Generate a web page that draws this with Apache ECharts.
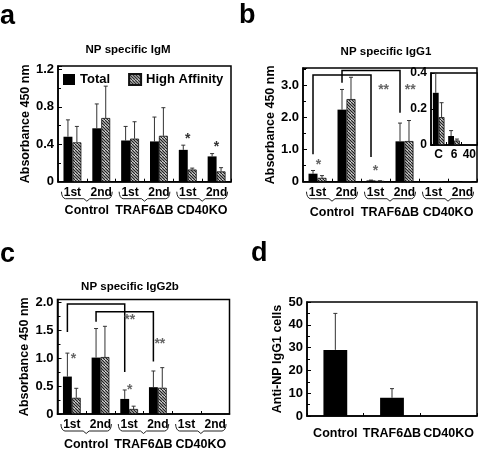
<!DOCTYPE html>
<html><head><meta charset="utf-8">
<script src="https://cdn.jsdelivr.net/npm/echarts@6/dist/echarts.min.js"></script>
<style>html,body{margin:0;padding:0;background:#fff}#c{width:481px;height:453px}</style>
</head><body><div id="c"></div>
<script>
// ---------------- data ----------------
const categories = ['1st', '2nd', '1st', '2nd', '1st', '2nd'];
const groups = ['Control', 'TRAF6ΔB', 'CD40KO'];
const seriesNames = ['Total', 'High Affinity'];

// panel a : NP specific IgM
const igmTotal    = [0.48, 0.57, 0.44, 0.43, 0.34, 0.27];
const igmTotalErr = [0.18, 0.26, 0.15, 0.26, 0.05, 0.03];
const igmHigh     = [0.42, 0.68, 0.46, 0.49, 0.13, 0.11];
const igmHighErr  = [0.17, 0.34, 0.18, 0.30, 0.015, 0.04];
const igmStars    = [[4, 0, 0.49, '*'], [5, 0, 0.40, '*']];

// panel b : NP specific IgG1
const igg1Total    = [0.25, 2.25, 0.04, 1.26, 0, 0];
const igg1TotalErr = [0.10, 0.63, 0.01, 0.57, 0, 0];
const igg1High     = [0.12, 2.58, 0.02, 1.27, 0, 0];
const igg1HighErr  = [0.07, 0.68, 0.01, 0.64, 0, 0];
const igg1Brackets = [[0, 0.86, 3.33, 2, 0.77], [1, 3.09, 3.47, 3, 2.15]];
const igg1Stars    = [[0, 0.03, 0.62, '*'], [2, 0, 0.41, '*'], [2, 0.28, 2.95, '**'], [3, 0.2, 2.95, '**']];
// inset of panel b
const insetCategories = ['C', '6', '40'];
const insetTicks    = [0, 0.2, 0.4];
const insetTotal    = [0.29, 0.05, 0];
const insetTotalErr = [0.11, 0.03, 0];
const insetHigh     = [0.155, 0.025, 0.004];
const insetHighErr  = [0.08, 0.008, 0];

// panel c : NP specific IgG2b
const igg2bTotal    = [0.67, 1.01, 0.27, 0.48, 0, 0];
const igg2bTotalErr = [0.42, 0.52, 0.16, 0.29, 0, 0];
const igg2bHigh     = [0.29, 1.02, 0.09, 0.47, 0, 0];
const igg2bHighErr  = [0.17, 0.55, 0.05, 0.36, 0, 0];
const igg2bBrackets = [[0, 1.47, 1.97, 2, 0.75], [1, 1.65, 1.83, 3, 0.94]];
const igg2bStars    = [[0, 0.06, 1.04, '*'], [2, 0.02, 0.48, '*'], [2, 0.02, 1.74, '**'], [3, 0.07, 1.31, '**']];

// panel d : Anti-NP IgG1 cells
const cellGroups = ['Control', 'TRAF6ΔB', 'CD40KO'];
const cellValues = [29, 8, 0];
const cellErr    = [16, 4, 0];

// ---------------- helpers ----------------
const FONT = 'Liberation Sans, Arial, Helvetica, sans-serif';
const BW = 0.31;

function hatchCanvas() {
  const c = document.createElement('canvas'); c.width = 6; c.height = 6;
  const g = c.getContext('2d');
  g.fillStyle = '#fff'; g.fillRect(0, 0, 6, 6);
  g.strokeStyle = '#222'; g.lineWidth = 1.3;
  for (const k of [-6, -3, 0, 3, 6]) { g.beginPath(); g.moveTo(k, 0); g.lineTo(k + 6, 6); g.stroke(); }
  return c;
}
const HATCH = { image: hatchCanvas(), repeat: 'repeat' };

function fmt1(v) { return v === 0 ? '0' : v.toFixed(1); }

function yAxis(gi, max, interval, formatter, name, extra) {
  return Object.assign({
    type: 'value', gridIndex: gi, min: 0, max: max, interval: interval,
    name: name || '', nameLocation: 'middle', nameGap: 23,
    nameTextStyle: { fontFamily: FONT, fontWeight: 'bold', fontSize: 12.5, color: '#000' },
    axisLine: { show: true, lineStyle: { color: '#000', width: 1.5 } },
    axisTick: { show: true, inside: true, length: 4, lineStyle: { color: '#000', width: 1 } },
    minorTick: { show: true, splitNumber: 2, length: 3, lineStyle: { color: '#000', width: 1 } },
    splitLine: { show: false },
    axisLabel: { formatter: formatter, showMaxLabel: false, margin: 4, fontFamily: FONT, fontWeight: 'bold', fontSize: 13, color: '#000' }
  }, extra || {});
}
function xAxis(gi, data, margin, fontSize) {
  return {
    type: 'category', gridIndex: gi, data: data,
    axisLine: { show: true, lineStyle: { color: '#000', width: 1.5 } },
    axisTick: { show: true, inside: true, length: 3, lineStyle: { color: '#000', width: 1 } },
    axisLabel: { margin: margin, fontFamily: FONT, fontWeight: 'bold', fontSize: fontSize, color: '#000', interval: 0 },
    splitLine: { show: false }
  };
}
function barPair(gi, tot, high, bw) {
  return [
    { type: 'bar', name: seriesNames[0], xAxisIndex: gi, yAxisIndex: gi, data: tot, barWidth: bw, barGap: '0%',
      itemStyle: { color: '#000' }, silent: true },
    { type: 'bar', name: seriesNames[1], xAxisIndex: gi, yAxisIndex: gi, data: high, barWidth: bw, barGap: '0%',
      itemStyle: { color: HATCH, borderColor: '#111', borderWidth: 0.8 }, silent: true }
  ];
}
function errSeries(gi, vals, errs, side, bw) {
  return {
    type: 'custom', xAxisIndex: gi, yAxisIndex: gi, silent: true, z: 1,
    data: vals.map((v, i) => [i, v, errs[i]]),
    renderItem(params, api) {
      const i = api.value(0), v = api.value(1), e = api.value(2);
      if (!(e > 0)) return { type: 'group', children: [] };
      const band = api.size([1, 0])[0];
      const p0 = api.coord([i, v]), p1 = api.coord([i, v + e]);
      const x = p0[0] + side * band * bw / 2;
      const st = { stroke: '#333', lineWidth: 1 };
      return { type: 'group', children: [
        { type: 'line', shape: { x1: x, y1: p0[1], x2: x, y2: p1[1] }, style: st },
        { type: 'line', shape: { x1: x - 2, y1: p1[1], x2: x + 2, y2: p1[1] }, style: st }
      ] };
    }
  };
}
function bracketSeries(gi, list) {
  return {
    type: 'custom', xAxisIndex: gi, yAxisIndex: gi, silent: true, z: 4,
    data: list.map((b, i) => [b[0], b[2]]),
    renderItem(params, api) {
      const b = list[params.dataIndex];
      const band = api.size([1, 0])[0];
      const dx = -band * BW / 2;
      const a1 = api.coord([b[0], b[1]]), a2 = api.coord([b[0], b[2]]);
      const c1 = api.coord([b[3], b[2]]), c2 = api.coord([b[3], b[4]]);
      return { type: 'polyline', shape: { points: [[a1[0] + dx, a1[1]], [a2[0] + dx, a2[1]], [c1[0] + dx, c1[1]], [c2[0] + dx, c2[1]]] },
        style: { stroke: '#000', lineWidth: 1.5, fill: null } };
    }
  };
}
function starSeries(gi, list, color) {
  return {
    type: 'custom', xAxisIndex: gi, yAxisIndex: gi, silent: true, z: 4,
    data: list.map(s => [s[0], s[2]]),
    renderItem(params, api) {
      const s = list[params.dataIndex];
      const band = api.size([1, 0])[0];
      const p = api.coord([s[0], s[2]]);
      return { type: 'text', x: p[0] + s[1] * band, y: p[1] + 3,
        style: { text: s[3], font: 'bold 14px ' + FONT, fill: color, align: 'center', verticalAlign: 'middle' } };
    }
  };
}
function braceSeries(gi, gap) {
  return {
    type: 'custom', xAxisIndex: gi, yAxisIndex: gi, silent: true, z: 4,
    data: groups.map((g, i) => [i * 2, 0]),
    renderItem(params, api) {
      const g = params.dataIndex;
      const band = api.size([1, 0])[0];
      const a = api.coord([2 * g, 0]), b = api.coord([2 * g + 1, 0]);
      const xL = a[0] - 0.38 * band, xR = b[0] + 0.38 * band, xm = (a[0] + b[0]) / 2;
      const y0 = a[1], yT = y0 + 10, yB = y0 + 17, r = 4;
      const pts = [];
      for (let t = 0; t <= 1.001; t += 0.25) { const ang = t * Math.PI / 2; pts.push([xL + r * (1 - Math.cos(ang)), yT + (yB - yT) * Math.sin(ang)]); }
      pts.push([xm - 3, yB]); pts.push([xm, yB + 2.5]); pts.push([xm + 3, yB]);
      for (let t = 1; t >= -0.001; t -= 0.25) { const ang = t * Math.PI / 2; pts.push([xR - r * (1 - Math.cos(ang)), yT + (yB - yT) * Math.sin(ang)]); }
      return { type: 'group', children: [
        { type: 'polyline', shape: { points: pts }, style: { stroke: '#222', lineWidth: 1, fill: null } },
        { type: 'text', x: xm, y: y0 + gap,
          style: { text: groups[g], font: 'bold 12.5px ' + FONT, fill: '#000', align: 'center', verticalAlign: 'middle' } }
      ] };
    }
  };
}
// inset y tick labels, placed through the inset's own scale, on an upper layer
function insetLabelSeries(gi) {
  return {
    type: 'custom', xAxisIndex: gi, yAxisIndex: gi, silent: true, zlevel: 1, z: 20, clip: false,
    data: insetTicks.map(t => [0, t]),
    renderItem(params, api) {
      const t = insetTicks[params.dataIndex];
      const band = api.size([1, 0])[0];
      const p = api.coord([0, t]);
      return { type: 'text', x: p[0] - band / 2 - 4, y: p[1],
        style: { text: fmt1(t), font: 'bold 12px ' + FONT, fill: '#000', align: 'right', verticalAlign: 'middle' } };
    }
  };
}
function txt(text, x, y, size, align) {
  return { type: 'text', x: x, y: y, silent: true,
    style: { text: text, font: 'bold ' + size + 'px ' + FONT, fill: '#000', align: align, verticalAlign: 'middle' } };
}

// ---------------- chart ----------------
const chart = echarts.init(document.getElementById('c'), null, { renderer: 'canvas' });
const gridBase = { show: true, borderColor: '#000', borderWidth: 1.5, backgroundColor: 'transparent', containLabel: false };
const option = {
  animation: false,
  backgroundColor: '#fff',
  grid: [
    Object.assign({ left: 58, top: 66, width: 173, height: 115.7 }, gridBase),
    Object.assign({ left: 303, top: 68, width: 174, height: 113.7 }, gridBase),
    Object.assign({ left: 431, top: 73, width: 46, height: 72 }, gridBase, { backgroundColor: '#fff' }),
    Object.assign({ left: 57.5, top: 299.5, width: 172, height: 114.5 }, gridBase),
    Object.assign({ left: 307, top: 302, width: 170, height: 114 }, gridBase)
  ],
  legend: {
    data: seriesNames, left: 63, top: 73, padding: 0, itemWidth: 12, itemHeight: 11, itemGap: 18,
    icon: 'rect', selectedMode: false,
    textStyle: { fontFamily: FONT, fontWeight: 'bold', fontSize: 13, color: '#000' }
  },
  xAxis: [
    xAxis(0, categories, 5, 12),
    xAxis(1, categories, 5, 12),
    xAxis(2, insetCategories, 4, 12),
    xAxis(3, categories, 5, 12),
    xAxis(4, cellGroups, 11, 12.5)
  ],
  yAxis: [
    yAxis(0, 1.235, 0.4, fmt1, 'Absorbance 450 nm'),
    yAxis(1, 3.55, 1, fmt1, 'Absorbance 450 nm'),
    yAxis(2, 0.4, 0.2, fmt1, '', { minorTick: { show: false }, axisLabel: { show: false } }),
    yAxis(3, 2.05, 0.5, fmt1, 'Absorbance 450 nm'),
    yAxis(4, 50, 10, v => String(v), 'Anti-NP IgG1 cells', { axisLabel: { margin: 4, fontFamily: FONT, fontWeight: 'bold', fontSize: 13, color: '#000' } })
  ],
  series: [
    ...barPair(0, igmTotal, igmHigh, '31%'),
    errSeries(0, igmTotal, igmTotalErr, -1, BW),
    errSeries(0, igmHigh, igmHighErr, 1, BW),
    starSeries(0, igmStars, '#333'),
    braceSeries(0, 29),

    ...barPair(1, igg1Total, igg1High, '31%'),
    errSeries(1, igg1Total, igg1TotalErr, -1, BW),
    errSeries(1, igg1High, igg1HighErr, 1, BW),
    bracketSeries(1, igg1Brackets),
    starSeries(1, igg1Stars, '#666'),
    braceSeries(1, 31),

    ...barPair(2, insetTotal, insetHigh, '38%'),
    errSeries(2, insetTotal, insetTotalErr, -1, 0.38),
    errSeries(2, insetHigh, insetHighErr, 1, 0.38),
    insetLabelSeries(2),

    ...barPair(3, igg2bTotal, igg2bHigh, '31%'),
    errSeries(3, igg2bTotal, igg2bTotalErr, -1, BW),
    errSeries(3, igg2bHigh, igg2bHighErr, 1, BW),
    bracketSeries(3, igg2bBrackets),
    starSeries(3, igg2bStars, '#666'),
    braceSeries(3, 31),

    { type: 'bar', name: 'cells', xAxisIndex: 4, yAxisIndex: 4, data: cellValues, barWidth: '42%', itemStyle: { color: '#000' }, silent: true },
    errSeries(4, cellValues, cellErr, 0, 0)
  ],
  graphic: [
    txt('a', 0, 17, 27, 'left'),
    txt('b', 239, 16, 27, 'left'),
    txt('c', 0, 255, 27, 'left'),
    txt('d', 251, 254, 27, 'left'),
    txt('NP specific IgM', 128, 50, 11.5, 'center'),
    txt('NP specific IgG1', 386, 52, 11.5, 'center'),
    txt('NP specific IgG2b', 130, 287, 11.5, 'center')
  ]
};
chart.setOption(option);
</script>
</body></html>
